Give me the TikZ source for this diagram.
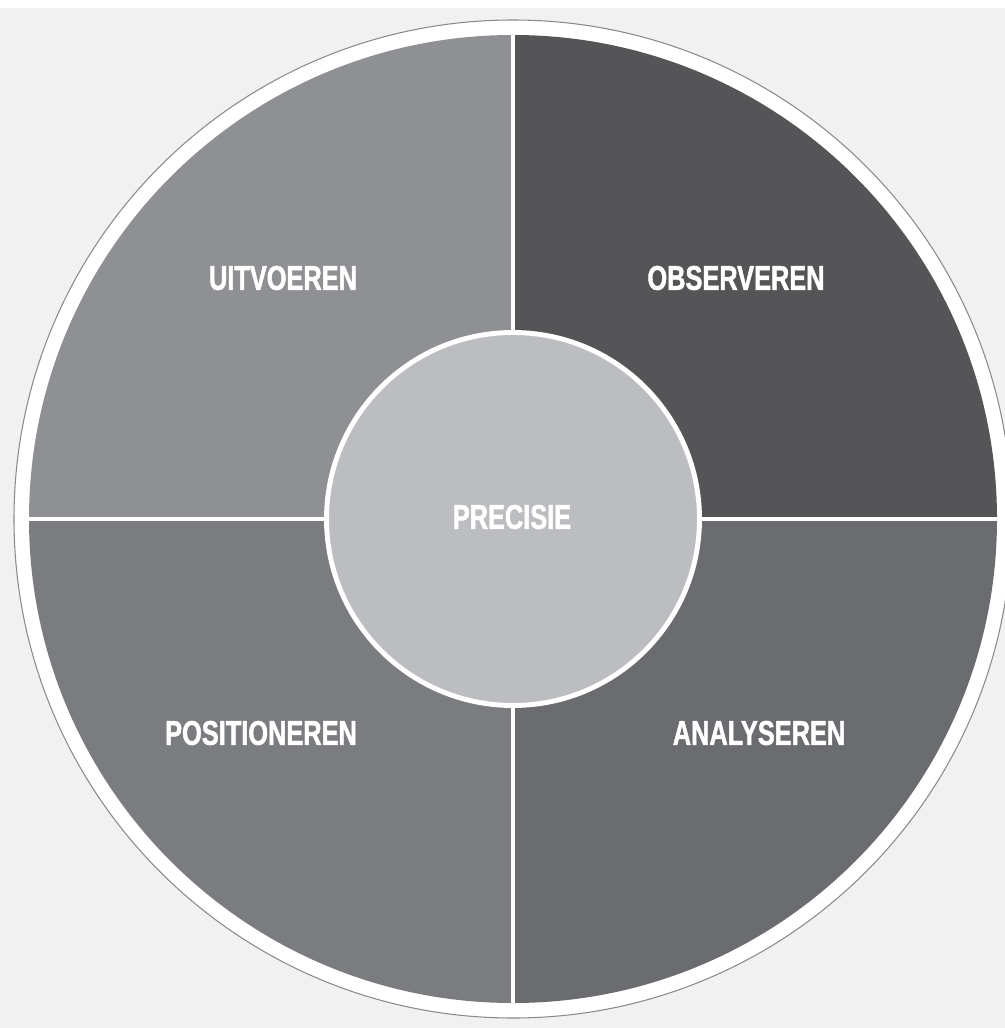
\documentclass[tikz,border=0pt]{standalone}
\usepackage{fontspec}
\newfontfamily\labelfont{Liberation Sans}[FakeStretch=0.74,FakeBold=1.4]
\usepackage{tikz}
\usetikzlibrary{positioning}

\definecolor{bggray}{HTML}{F1F1F1}
\definecolor{rimgray}{HTML}{8A8A8A}
\definecolor{uitgray}{HTML}{8F9093}
\definecolor{obsgray}{HTML}{555557}
\definecolor{posgray}{HTML}{7B7C80}
\definecolor{anagray}{HTML}{6B6C70}
\definecolor{hubgray}{HTML}{BCBDC0}

\begin{document}
\begin{tikzpicture}
                [
                ring/.style={fill=white,draw=rimgray,line width=0.6pt},
                hub/.style={circle,fill=hubgray,draw=white,line width=2.8pt,minimum size=7.46cm,inner sep=0pt},
                divider/.style={draw=white,line width=2.8pt},
                lbl/.style={text=white,font=\labelfont\bfseries\fontsize{19.5}{21}\selectfont}
                ]
            \useasboundingbox (0,0) rectangle (20.1,-20.56);
            \fill[white] (0,0) rectangle (20.1,-0.16);
            \fill[bggray] (0,-0.16) rectangle (20.1,-20.56);
            \coordinate (c) at (10.26,-10.38);
            \draw[ring] (c) circle (9.98);
            \begin{scope}
            \clip (c) circle (9.68);
            \fill[uitgray] (c) rectangle ++(-10,10);
            \fill[obsgray] (c) rectangle ++(10,10);
            \fill[posgray] (c) rectangle ++(-10,-10);
            \fill[anagray] (c) rectangle ++(10,-10);
            \end{scope}
            \path (c) ++(0,9.68) coordinate (n);
            \path (c) ++(0,-9.68) coordinate (s);
            \path (c) ++(-9.68,0) coordinate (w);
            \path (c) ++(9.68,0) coordinate (e);
            \node[hub] (p) at (c) {};
            \node[lbl] (precisie) at (10.24,-10.34) {PRECISIE};
            \node[lbl] (uit) at (5.66,-5.56) {UITVOEREN};
            \node[lbl] (obs) at (14.72,-5.56) {OBSERVEREN};
            \node[lbl] (pos) at (5.22,-14.66) {POSITIONEREN};
            \node[lbl] (ana) at (15.18,-14.66) {ANALYSEREN};
            \draw[divider] (p.north) -- (n);
            \draw[divider] (p.south) -- (s);
            \draw[divider] (p.west) -- (w);
            \draw[divider] (p.east) -- (e);
            \end{tikzpicture}
\end{document}
